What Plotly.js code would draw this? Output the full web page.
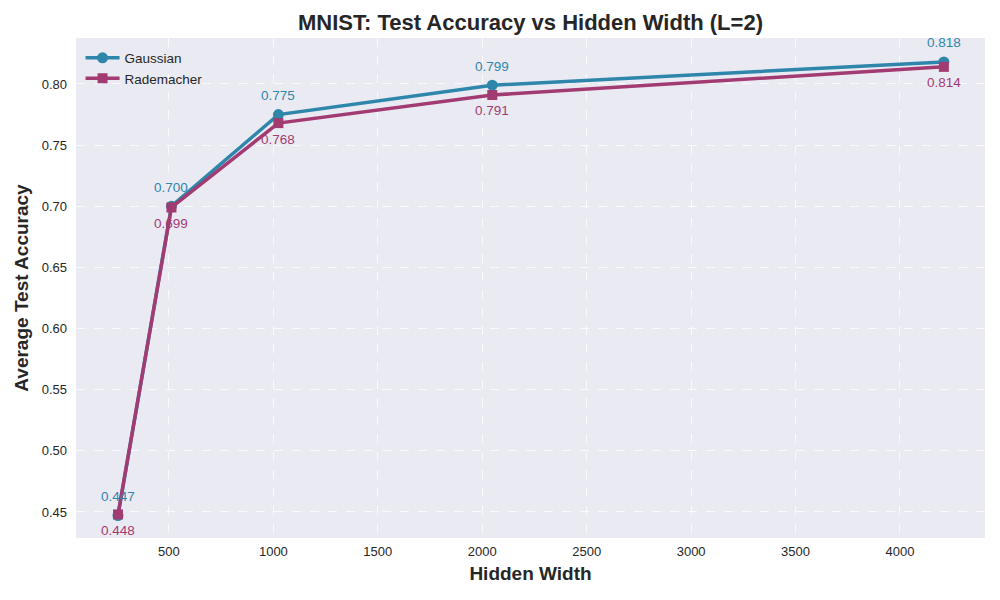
<!DOCTYPE html>
<html>
<head>
<meta charset="utf-8">
<script src="https://cdn.plot.ly/plotly-3.0.1.min.js"></script>
<style>html,body{margin:0;padding:0;background:#fff;}#chart{width:1000px;height:600px;}</style>
</head>
<body>
<div id="chart"></div>
<script>
const widths = [256, 512, 1024, 2048, 4210];
const gaussian = [0.447, 0.700, 0.775, 0.799, 0.818];
const rademacher = [0.448, 0.699, 0.768, 0.791, 0.814];
const xTicks = [500, 1000, 1500, 2000, 2500, 3000, 3500, 4000];
const yTicks = [0.45, 0.50, 0.55, 0.60, 0.65, 0.70, 0.75, 0.80];

const cG = '#2E86AB', cR = '#A23B72';
const font = 'Liberation Sans, Arial, sans-serif';

const traces = [
  {x: widths, y: gaussian, name: 'Gaussian', mode: 'lines+markers',
   line: {color: cG, width: 3.5}, marker: {symbol: 'circle', size: 11, color: cG}},
  {x: widths, y: rademacher, name: 'Rademacher', mode: 'lines+markers',
   line: {color: cR, width: 3.5}, marker: {symbol: 'square', size: 10, color: cR}}
];

const annotations = [];
widths.forEach((w, i) => {
  annotations.push({x: w, y: gaussian[i], xref: 'x', yref: 'y', text: gaussian[i].toFixed(3),
    showarrow: false, yshift: 19, font: {family: font, size: 13.5, color: cG}});
  annotations.push({x: w, y: rademacher[i], xref: 'x', yref: 'y', text: rademacher[i].toFixed(3),
    showarrow: false, yshift: -16, font: {family: font, size: 13.5, color: cR}});
});

const layout = {
  width: 1000, height: 600,
  margin: {l: 76, r: 15, t: 38, b: 62},
  paper_bgcolor: '#ffffff', plot_bgcolor: '#EAEAF2',
  font: {family: font, size: 13, color: '#262626'},
  title: {text: '<b>MNIST: Test Accuracy vs Hidden Width (L=2)</b>', xref: 'paper', x: 0.5, xanchor: 'center',
          y: 0.963, yanchor: 'middle', font: {family: font, size: 22, color: '#262626'}},
  xaxis: {range: [55, 4407], tickvals: xTicks, ticktext: xTicks.map(String),
    showgrid: true, gridcolor: 'rgba(255,255,255,0.75)', griddash: 'dash', gridwidth: 1, zeroline: false,
    showline: false, ticks: '', ticklabelstandoff: 4, tickfont: {size: 13, color: '#262626'},
    title: {text: '<b>Hidden Width</b>', font: {size: 19, color: '#262626'}, standoff: 8}},
  yaxis: {range: [0.4287, 0.8376], tickvals: yTicks, ticktext: yTicks.map(v => v.toFixed(2)),
    showgrid: true, gridcolor: 'rgba(255,255,255,0.75)', griddash: 'dash', gridwidth: 1, zeroline: false,
    showline: false, ticks: '', ticklabelstandoff: 8, tickfont: {size: 13, color: '#262626'},
    title: {text: '<b>Average Test Accuracy</b>', font: {size: 19, color: '#262626'}, standoff: 8}},
  legend: {x: 0.005, y: 0.991, xanchor: 'left', yanchor: 'top', bgcolor: 'rgba(234,234,242,0)',
    font: {size: 13.5, color: '#262626'}, itemwidth: 34, tracegroupgap: 0},
  showlegend: true,
  annotations: annotations
};

Plotly.newPlot('chart', traces, layout, {displayModeBar: false, staticPlot: true});
</script>
</body>
</html>
